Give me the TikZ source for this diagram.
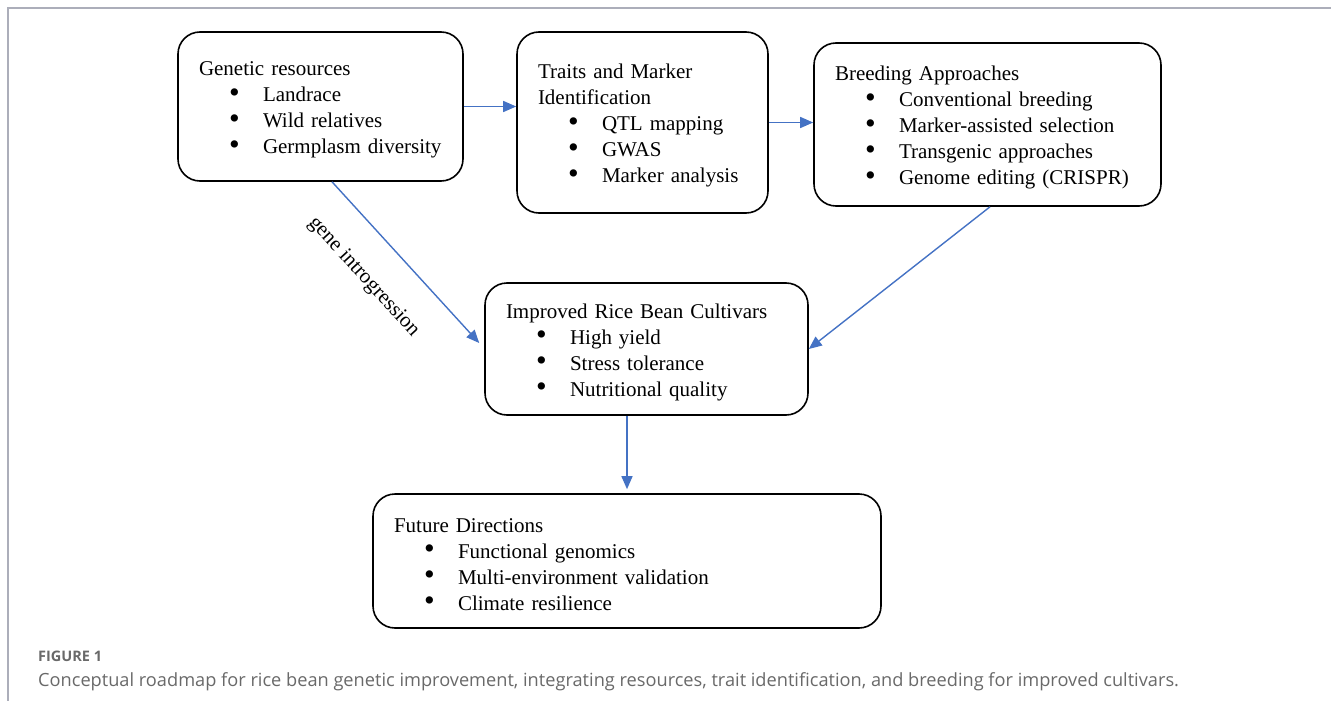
\documentclass[tikz,border=0pt]{standalone}
\usepackage{fontspec}
\setmainfont{Liberation Serif}
\newfontfamily\capfont{Open Sans}
\usetikzlibrary{arrows.meta}
\definecolor{arrowblue}{RGB}{68,114,196}
\definecolor{framegray}{RGB}{172,174,186}
\definecolor{capgray}{RGB}{105,105,105}
\tikzset{rbox/.style={
    rectangle,
    draw,
    line width=1.6pt,
    rounded corners=22pt,
    align=left,
    inner xsep=21pt,
    inner ysep=0pt,
    font=\fontsize{21}{26}\selectfont,
    execute at begin node={\rule{0pt}{21pt}}
  },
  flow/.style={draw=arrowblue,line width=1.4pt,-{Triangle[length=13pt,width=11pt]}},
}
\newcommand{\bitem}[1]{\\\hspace*{30pt}\makebox[34pt][l]{\raisebox{-0.5pt}{\scalebox{1.45}{\textbullet}}}#1}

\begin{document}
\begin{tikzpicture}[x=1pt,y=-1pt]
  \useasboundingbox (0,0) rectangle (1331,701);
  \draw[framegray,line width=1.2pt] (8,701) -- (8,8) -- (1331,8);
  % boxes
  \node [rbox,text width=243pt,minimum height=149pt] (genres) at (320.5,106.5)
    {Genetic resources\bitem{Landrace}\bitem{Wild relatives}\bitem{Germplasm diversity}};
  \node [rbox,text width=209pt,minimum height=181pt] (traits) at (642.5,122.5)
    {Traits and Marker\\Identification\bitem{QTL mapping}\bitem{GWAS}\bitem{Marker analysis}};
  \node [rbox,text width=305pt,minimum height=163pt] (breeding) at (987.5,124.5)
    {Breeding Approaches\bitem{Conventional breeding}\bitem{Marker-assisted selection}\bitem{Transgenic approaches}\bitem{Genome editing (CRISPR)}};
  \node [rbox,text width=281pt,minimum height=132pt] (cultivars) at (646.5,349)
    {Improved Rice Bean Cultivars\bitem{High yield}\bitem{Stress tolerance}\bitem{Nutritional quality}};
  \node [rbox,text width=466pt,minimum height=134pt] (future) at (627,561)
    {Future Directions\bitem{Functional genomics}\bitem{Multi-environment validation}\bitem{Climate resilience}};
  % connectors
  \draw[flow] (genres.east) -- (traits.west |- genres.east);
  \draw[flow] (traits.east) -- (breeding.west |- traits.east);
  \draw[flow] ([xshift=11.5pt]genres.south) -- ([xshift=-5pt,yshift=6pt]cultivars.west)
    node[pos=0.42,sloped,below=31pt,inner sep=0pt,font=\fontsize{21}{26}\selectfont] (introlabel) {gene introgression};
  \draw[flow] ([xshift=2.5pt]breeding.south) -- (cultivars.east);
  \draw[flow] (cultivars.south -| future.north) -- ([yshift=4pt]future.north);
  % caption
  \node [anchor=base west,inner sep=0pt,text=capgray,font=\capfont\bfseries\fontsize{14.5}{17}\selectfont] (figlabel) at (38,661) {FIGURE 1};
  \node [anchor=base west,inner sep=0pt,text=capgray,font=\capfont\fontsize{18.2}{22}\selectfont] (figcaption) at (38,686)
    {Conceptual roadmap for rice bean genetic improvement, integrating resources, trait identification, and breeding for improved cultivars.};
\end{tikzpicture}
\end{document}
